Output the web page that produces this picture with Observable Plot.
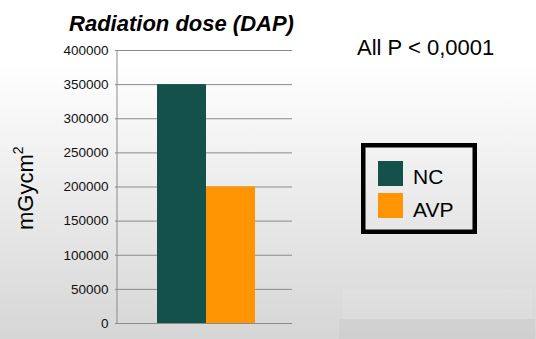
<!DOCTYPE html>
<html>
<head>
<meta charset="utf-8">
<script src="https://cdn.jsdelivr.net/npm/d3@7"></script>
<script src="https://cdn.jsdelivr.net/npm/@observablehq/plot@0.6"></script>
<style>
  html, body { margin: 0; padding: 0; }
  #wrap {
    position: relative; width: 536px; height: 339px; overflow: hidden;
    background: linear-gradient(to bottom, #ffffff 0%, #ffffff 18%, #d6d6d6 100%);
    font-family: "Liberation Sans", Arial, sans-serif;
  }
  #wrap svg { position: absolute; left: 0; top: 0; }
  .deco1 { position: absolute; left: 343px; top: 289px; width: 189px; height: 30px; background: rgba(255,255,255,0.09); }
  .deco2 { position: absolute; left: 339px; top: 319px; width: 196px; height: 20px; background: rgba(0,0,0,0.03); }
</style>
</head>
<body>
<div id="wrap"><div class="deco1"></div><div class="deco2"></div></div>
<script>
const title = "Radiation dose (DAP)";
const yLabel = "mGycm";
const yLabelSup = "2";
const note = "All P < 0,0001";
const categories = ["NC", "AVP"];
const values = [350000, 200000];
const colors = ["#13514a", "#ff9502"];
const yTicks = [0, 50000, 100000, 150000, 200000, 250000, 300000, 350000, 400000];

const data = categories.map((c, i) => ({group: c, dap: values[i]}));

const plot = Plot.plot({
  width: 536,
  height: 339,
  marginTop: 50,
  marginBottom: 16,
  marginLeft: 117,
  marginRight: 244,
  style: {background: "transparent", fontFamily: "Liberation Sans, Arial, sans-serif", fontSize: "13.5px", color: "#111"},
  x: {domain: categories, range: [156, 255], padding: 0, axis: null},
  y: {domain: [0, 400000], axis: null},
  color: {domain: categories, range: colors},
  marks: [
    Plot.gridY(yTicks, {stroke: "#8a8a8a", strokeOpacity: 1, strokeWidth: 1}),
    Plot.barY(data, {x: "group", y: "dap", fill: "group"}),
    Plot.axisY(yTicks, {tickSize: 2, tickPadding: 7, tickFormat: d => String(d), stroke: "#8a8a8a", label: null, fill: "#111"})
  ]
});
document.getElementById("wrap").appendChild(plot);

const svg = d3.select(plot);
const ys = plot.scale("y");
const font = "Liberation Sans, Arial, sans-serif";
// left axis line
svg.append("line")
  .attr("x1", 117).attr("x2", 117)
  .attr("y1", ys.apply(400000)).attr("y2", ys.apply(0))
  .attr("stroke", "#8a8a8a").attr("stroke-width", 1);

// title
svg.append("text").text(title)
  .attr("x", 181.5).attr("y", 31).attr("text-anchor", "middle")
  .attr("font-family", font)
  .attr("font-size", 22).attr("font-weight", "bold").attr("font-style", "italic")
  .attr("fill", "#000");

// y label
const yl = svg.append("text")
  .attr("transform", "translate(33,230) rotate(-90)")
  .attr("text-anchor", "start")
  .attr("font-family", font)
  .attr("font-size", 22).attr("fill", "#000");
yl.append("tspan").text(yLabel);
yl.append("tspan").text(yLabelSup).attr("font-size", 14).attr("dy", -10);

// note
svg.append("text").text(note)
  .attr("x", 357).attr("y", 55).attr("text-anchor", "start")
  .attr("font-family", font)
  .attr("font-size", 22).attr("fill", "#000");

// legend
svg.append("rect")
  .attr("x", 363.25).attr("y", 145.25).attr("width", 111.5).attr("height", 86.5)
  .attr("fill", "none").attr("stroke", "#000").attr("stroke-width", 4.5);
categories.forEach((c, i) => {
  svg.append("rect")
    .attr("x", 378).attr("y", 161 + i * 32).attr("width", 25).attr("height", 25)
    .attr("fill", colors[i]);
  svg.append("text").text(c)
    .attr("x", 413).attr("y", 183.5 + i * 33.3).attr("text-anchor", "start")
    .attr("font-family", font)
    .attr("font-size", 21).attr("fill", "#000");
});
</script>
</body>
</html>
